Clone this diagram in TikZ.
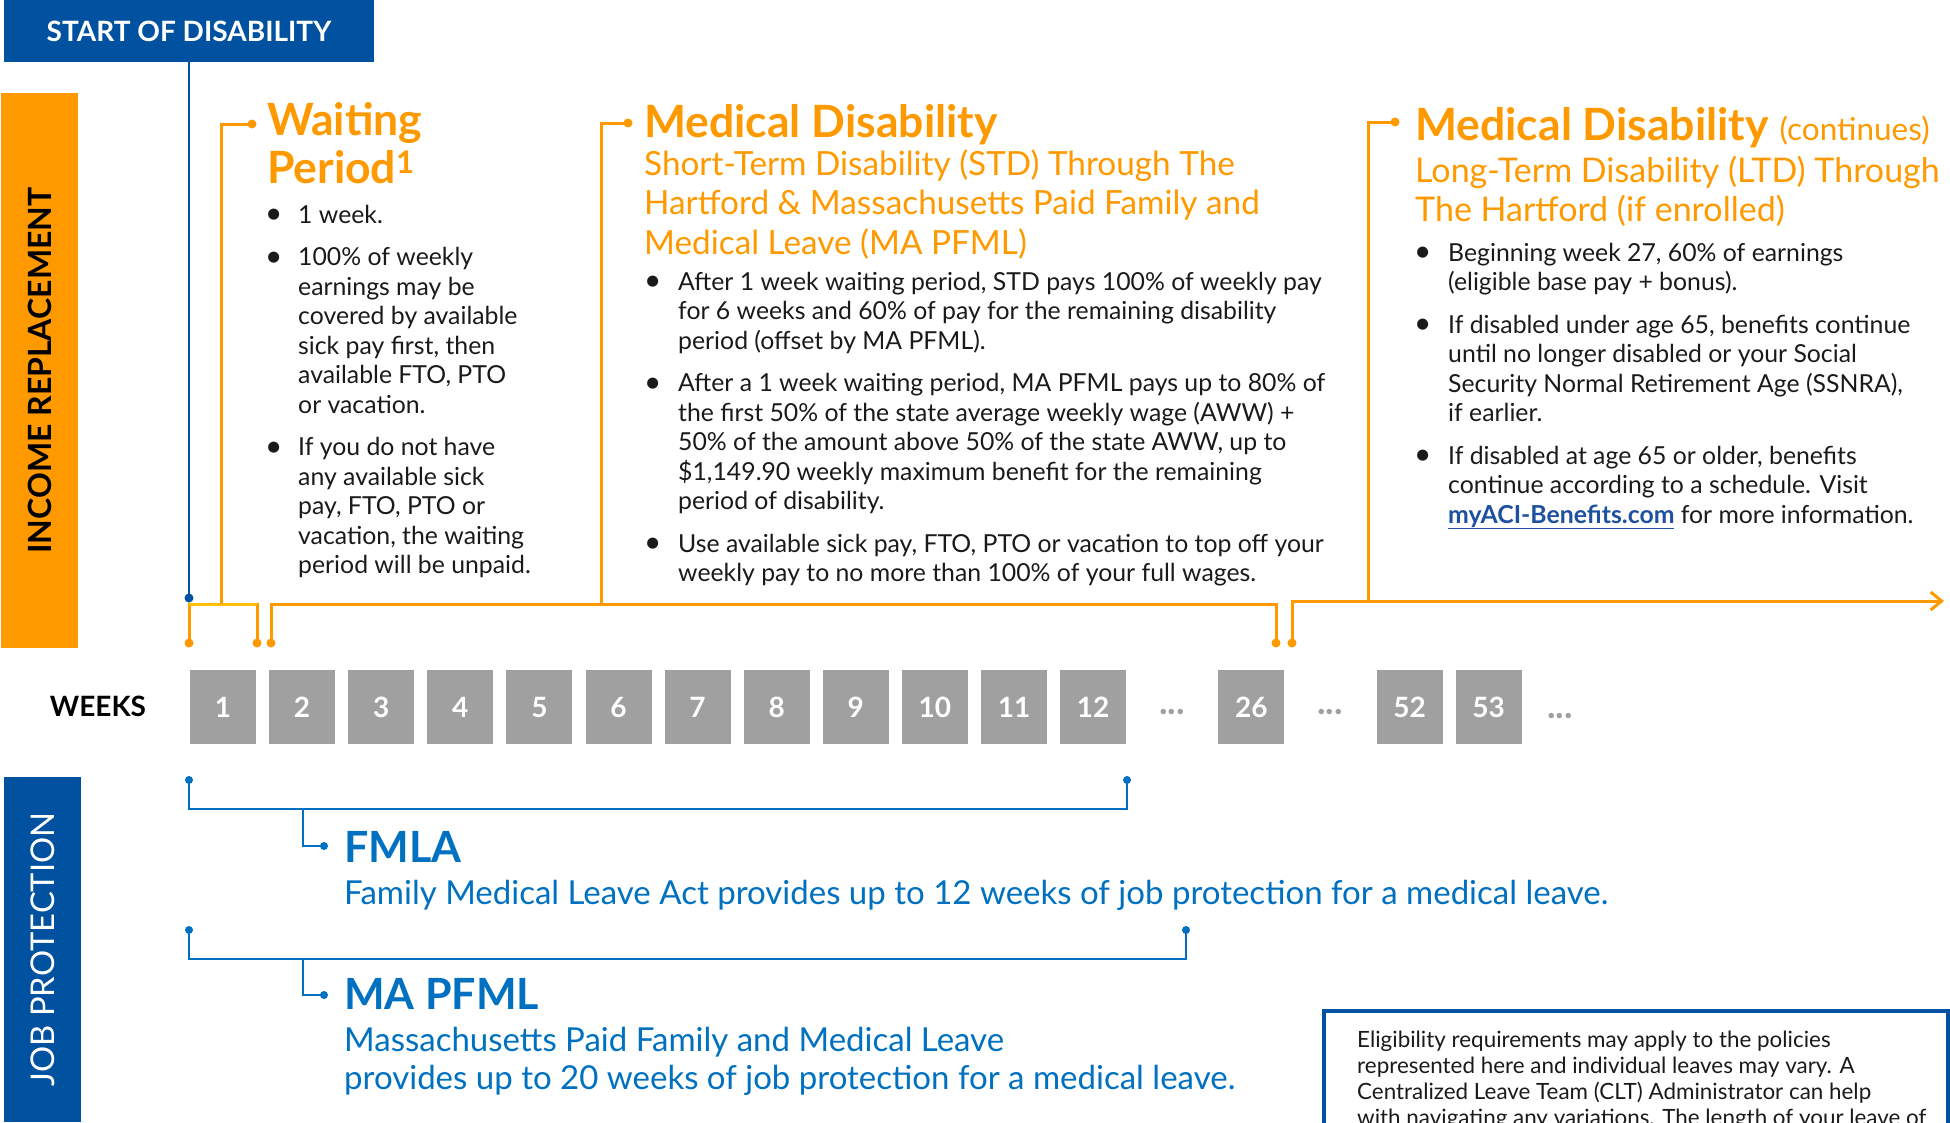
\documentclass[tikz,border=0pt]{standalone}
\usepackage{fontspec}
\usepackage{graphicx}
\setmainfont{Lato}
\usetikzlibrary{arrows.meta}
\definecolor{orng}{RGB}{255,153,0}
\definecolor{orngl}{RGB}{255,192,0}
\definecolor{dblue}{RGB}{0,82,160}
\definecolor{mblue}{RGB}{0,112,192}
\definecolor{wgray}{RGB}{160,160,160}
\definecolor{txt}{RGB}{26,26,26}
\definecolor{lnk}{RGB}{30,80,160}
\newcommand\fs[2]{\fontsize{#1}{#2}\selectfont}
\newcommand\bul{\raisebox{-0.8pt}{\scalebox{1.2}{\textbullet}}}
\begin{document}
\begin{tikzpicture}[x=1pt,y=-1pt,
  weekbox/.style={fill=wgray, minimum width=66, minimum height=74, inner sep=0, text=white, font=\bfseries\fs{28}{28}},
  ellip/.style={inner sep=0, text=wgray, font=\bfseries\fs{36}{36}},
  odot/.style={circle, fill=orng, inner sep=0, minimum size=9},
  bdot/.style={circle, fill=dblue, inner sep=0, minimum size=9},
  mdot/.style={circle, fill=mblue, inner sep=0, minimum size=8},
  oline/.style={draw=orng, line width=3},
  yline/.style={draw=orngl, line width=3},
  bline/.style={draw=dblue, line width=2.5},
  mline/.style={draw=mblue, line width=2.5},
  tx/.style={inner sep=0, anchor=base west},
  body/.style={tx, text=txt, font=\fs{24.8}{29.5}},
  ohead/.style={tx, text=orng, font=\bfseries\fs{44.5}{48}},
  osub/.style={tx, text=orng, font=\fs{33.3}{39.5}},
]
\useasboundingbox (0,0) rectangle (1950,1122);
\clip (0,0) rectangle (1950,1122);

% side bars and start box
\node[fill=dblue, minimum width=370, minimum height=62, inner sep=0, text=white, font=\bfseries\fs{28}{28}] (start) at (189,31) {START OF DISABILITY};
\node[fill=orng, rotate=90, minimum width=555, minimum height=77, inner sep=0, text=black, font=\bfseries\fs{32}{32}] (inc) at (39.5,370.5) {INCOME REPLACEMENT};
\node[fill=dblue, rotate=90, minimum width=345, minimum height=77, inner sep=0, text=white, font=\fs{32.7}{32.7}] (job) at (42.5,949.5) {JOB PROTECTION};

% weeks
\node[inner sep=0, text=black, font=\bfseries\fs{28}{28}] (weeks) at (98,706) {WEEKS};
\foreach \n/\k in {1/0,2/1,3/2,4/3,5/4,6/5,7/6,8/7,9/8,10/9,11/10,12/11,26/13,52/15,53/16}
  \node[weekbox] (w\n) at ({223+\k*79.1},707) {\n};
\node[ellip] (e1) at (1172,712) {...};
\node[ellip] (e2) at (1330,712) {...};
\node[ellip] (e3) at (1560,716) {...};

% orange connectors
\node[odot] (b1) at (189,643) {};
\node[odot] (b2) at (257,643) {};
\node[odot] (b3) at (271,643) {};
\node[odot] (b4) at (1276,643) {};
\node[odot] (b5) at (1292,643) {};
\node[bdot] (sd) at (189,598) {};
\node[odot] (wd) at (252,124) {};
\node[odot] (md) at (628,123) {};
\node[odot] (ld) at (1395,122) {};
\coordinate (wj) at (221,604);
\coordinate (mj) at (601,604);
\coordinate (lj) at (1368,601);
\coordinate (aend) at (1944,601);

\draw[oline] (b1.center) -- (b1.center |- wj) -| (b2.center);
\draw[yline] (b1.center |- wj) -- (b2.center |- wj);
\draw[oline] (wj) |- (wd.center);
\draw[oline] (b3.center) -- (b3.center |- mj) -| (b4.center);
\draw[oline] (mj) |- (md.center);
\draw[oline, -{Straight Barb[length=11pt,width=18pt]}] (b5.center) |- (aend);
\draw[oline] (lj) |- (ld.center);
\draw[bline] (start.south) -- (sd.center);

% Waiting period
\node[ohead] (wtitle) at (267,135) {\begin{tabular}[t]{@{}l@{}}Waiting\\Period\textsuperscript{1}\end{tabular}};
\node[body] (wlist) at (265,223) {\begin{tabular}[t]{@{}p{33pt}@{}l@{}}
\bul & 1 week.\\[13pt]
\bul & 100\% of weekly\\
& earnings may be\\
& covered by available\\
& sick pay first, then\\
& available FTO, PTO\\
& or vacation.\\[13pt]
\bul & If you do not have\\
& any available sick\\
& pay, FTO, PTO or\\
& vacation, the waiting\\
& period will be unpaid.
\end{tabular}};

% Medical disability (STD)
\node[ohead] (mtitle) at (644,137) {Medical Disability};
\node[osub] (msub) at (644,175) {\begin{tabular}[t]{@{}l@{}}Short-Term Disability (STD) Through The\\
Hartford \& Massachusetts Paid Family and\\
Medical Leave (MA PFML)\end{tabular}};
\node[body] (mlist) at (644,290) {\begin{tabular}[t]{@{}p{34pt}@{}l@{}}
\bul & After 1 week waiting period, STD pays 100\% of weekly pay\\
& for 6 weeks and 60\% of pay for the remaining disability\\
& period (offset by MA PFML).\\[13pt]
\bul & After a 1 week waiting period, MA PFML pays up to 80\% of\\
& the first 50\% of the state average weekly wage (AWW) +\\
& 50\% of the amount above 50\% of the state AWW, up to\\
& \$1,149.90 weekly maximum benefit for the remaining\\
& period of disability.\\[13pt]
\bul & Use available sick pay, FTO, PTO or vacation to top off your\\
& weekly pay to no more than 100\% of your full wages.
\end{tabular}};

% Medical disability (LTD)
\node[ohead] (ltitle) at (1415,140) {Medical Disability\hspace{11pt}{\mdseries\fs{31.5}{31.5}(continues)}};
\node[osub, font=\fs{34}{39.5}] (lsub) at (1415,182) {\begin{tabular}[t]{@{}l@{}}Long-Term Disability (LTD) Through\\
The Hartford (if enrolled)\end{tabular}};
\node[body] (llist) at (1414,261) {\begin{tabular}[t]{@{}p{34pt}@{}l@{}}
\bul & Beginning week 27, 60\% of earnings\\
& (eligible base pay + bonus).\\[13pt]
\bul & If disabled under age 65, benefits continue\\
& until no longer disabled or your Social\\
& Security Normal Retirement Age (SSNRA),\\
& if earlier.\\[13pt]
\bul & If disabled at age 65 or older, benefits\\
& continue according to a schedule. Visit\\
& {\bfseries\color{lnk}\underline{myACI-Benefits.com}} for more information.
\end{tabular}};

% job protection brackets
\node[mdot] (fl) at (189,780) {};
\node[mdot] (fr) at (1127,780) {};
\coordinate (fb) at (303,809);
\node[mdot] (fd) at (324,846) {};
\draw[mline] (fl.center) |- (fb) -| (fr.center);
\draw[mline] (fb) |- (fd.center);
\node[tx, text=mblue, font=\bfseries\fs{43}{43}] (fmla) at (344,862) {FMLA};
\node[tx, text=mblue, font=\fs{33}{38}] (fmlad) at (344,904) {Family Medical Leave Act provides up to 12 weeks of job protection for a medical leave.};

\node[mdot] (ml) at (189,930) {};
\node[mdot] (mr) at (1186,930) {};
\coordinate (mb) at (303,959);
\node[mdot] (mdd) at (324,995) {};
\draw[mline] (ml.center) |- (mb) -| (mr.center);
\draw[mline] (mb) |- (mdd.center);
\node[tx, text=mblue, font=\bfseries\fs{43}{43}] (mapfml) at (344,1009) {MA PFML};
\node[tx, text=mblue, font=\fs{33}{38}] (mapfmld) at (344,1051) {\begin{tabular}[t]{@{}l@{}}Massachusetts Paid Family and Medical Leave\\
provides up to 20 weeks of job protection for a medical leave.\end{tabular}};

% eligibility box
\node[draw=dblue, line width=4, anchor=north west, minimum width=624, minimum height=160, inner sep=0] (eligbox) at (1322,1009) {};
\node[tx, text=txt, font=\fs{22.4}{26}] (eligtext) at (1357,1047) {\begin{tabular}[t]{@{}l@{}}Eligibility requirements may apply to the policies\\
represented here and individual leaves may vary. A\\
Centralized Leave Team (CLT) Administrator can help\\
with navigating any variations. The length of your leave of\end{tabular}};
\end{tikzpicture}
\end{document}
